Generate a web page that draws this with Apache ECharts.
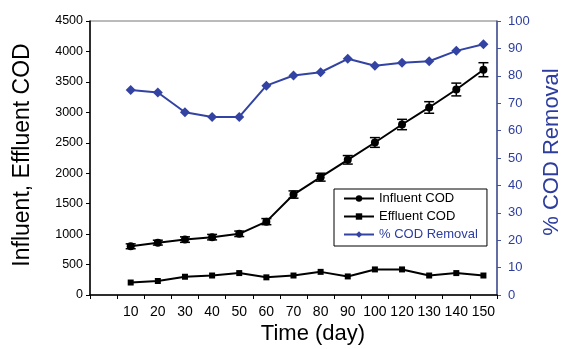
<!DOCTYPE html>
<html>
<head>
<meta charset="utf-8">
<script src="https://cdn.jsdelivr.net/npm/echarts@6/dist/echarts.min.js"></script>
<style>html,body{margin:0;padding:0;background:#fff}#c{width:567px;height:349px}</style>
</head>
<body>
<div id="c"></div>
<script>
const days = ['10','20','30','40','50','60','70','80','90','100','120','130','140','150'];
const influentCOD = [800, 860, 910, 950, 1005, 1205, 1650, 1935, 2220, 2505, 2800, 3080, 3375, 3700];
const influentErr = [40, 40, 45, 45, 45, 50, 60, 65, 70, 80, 85, 95, 105, 115];
const effluentCOD = [205, 230, 300, 320, 360, 290, 320, 380, 305, 420, 420, 320, 360, 320];
const codRemoval = [74.8, 73.9, 66.7, 65.0, 65.0, 76.4, 80.1, 81.3, 86.2, 83.7, 84.8, 85.3, 89.1, 91.5];
const leftTicks = {min: 0, max: 4500, interval: 500};
const rightTicks = {min: 0, max: 100, interval: 10};

const FONT = "'Liberation Sans', Arial, Helvetica, sans-serif";
const BLUE = '#3343a3';
const BLUE_TXT = '#2c3d9f';

const categories = [''].concat(days);
const pad = arr => [null].concat(arr);
const errData = influentCOD.map((v, i) => [i + 1, v, influentErr[i]]);

const chart = echarts.init(document.getElementById('c'), null, {renderer: 'canvas'});
chart.setOption({
  animation: false,
  textStyle: {fontFamily: FONT},
  grid: {left: 90, right: 70, top: 21, bottom: 54, show: true, borderColor: '#777', borderWidth: 1},
  legend: {
    orient: 'vertical', left: 334, top: 189,
    backgroundColor: '#fff', borderColor: '#000', borderWidth: 1,
    padding: [3, 9, 5, 9], itemGap: 5, itemWidth: 30, itemHeight: 8,
    textStyle: {fontFamily: FONT, fontSize: 13, color: '#000'},
    data: [
      {name: 'Influent COD'},
      {name: 'Effluent COD'},
      {name: '% COD Removal', textStyle: {color: BLUE_TXT}}
    ]
  },
  xAxis: {
    type: 'category', data: categories, boundaryGap: true,
    axisLine: {lineStyle: {color: '#000', width: 1.5}},
    axisTick: {show: true, length: 4, lineStyle: {color: '#000'}},
    axisLabel: {interval: 0, fontSize: 14, color: '#000', margin: 10, fontFamily: FONT},
    splitLine: {show: false}
  },
  yAxis: [
    {
      type: 'value', position: 'left', min: leftTicks.min, max: leftTicks.max, interval: leftTicks.interval,
      axisLine: {show: true, lineStyle: {color: '#000', width: 1.5}},
      axisTick: {show: true, length: 4, lineStyle: {color: '#000'}},
      axisLabel: {fontSize: 12.5, color: '#000', margin: 7, fontFamily: FONT, formatter: v => String(v)},
      splitLine: {show: false}
    },
    {
      type: 'value', position: 'right', min: rightTicks.min, max: rightTicks.max, interval: rightTicks.interval,
      axisLine: {show: true, lineStyle: {color: '#46549e', width: 1.5}},
      axisTick: {show: true, length: 4, lineStyle: {color: '#46549e'}},
      axisLabel: {fontSize: 13, color: BLUE_TXT, margin: 11, fontFamily: FONT, formatter: v => String(v)},
      splitLine: {show: false}
    }
  ],
  graphic: [
    {type: 'text', x: 23, y: 155, rotation: Math.PI / 2,
     style: {text: 'Influent, Effluent COD', font: '23px ' + FONT, fill: '#000', textAlign: 'center', textVerticalAlign: 'middle'}},
    {type: 'text', x: 552, y: 152, rotation: Math.PI / 2,
     style: {text: '% COD Removal', font: '22px ' + FONT, fill: BLUE_TXT, textAlign: 'center', textVerticalAlign: 'middle'}},
    {type: 'text', x: 313, y: 334,
     style: {text: 'Time (day)', font: '22px ' + FONT, fill: '#000', textAlign: 'center', textVerticalAlign: 'middle'}}
  ],
  series: [
    {
      name: 'Influent COD', type: 'line', yAxisIndex: 0, data: pad(influentCOD),
      symbol: 'circle', symbolSize: 8, showSymbol: true,
      lineStyle: {color: '#000', width: 2}, itemStyle: {color: '#000'}, z: 3
    },
    {
      name: 'Effluent COD', type: 'line', yAxisIndex: 0, data: pad(effluentCOD),
      symbol: 'rect', symbolSize: 6,
      lineStyle: {color: '#000', width: 2}, itemStyle: {color: '#000'}, z: 3
    },
    {
      name: '% COD Removal', type: 'line', yAxisIndex: 1, data: pad(codRemoval),
      symbol: 'diamond', symbolSize: 10,
      lineStyle: {color: BLUE, width: 2}, itemStyle: {color: BLUE}, z: 3
    },
    {
      name: 'errors', type: 'custom', yAxisIndex: 0, data: errData, z: 4,
      renderItem: function (params, api) {
        const x = api.value(0), v = api.value(1), e = api.value(2);
        const hi = api.coord([x, v + e]);
        const lo = api.coord([x, v - e]);
        const w = 5;
        const st = {stroke: '#000', lineWidth: 1.5};
        return {type: 'group', children: [
          {type: 'line', shape: {x1: hi[0], y1: hi[1], x2: lo[0], y2: lo[1]}, style: st},
          {type: 'line', shape: {x1: hi[0] - w, y1: hi[1], x2: hi[0] + w, y2: hi[1]}, style: st},
          {type: 'line', shape: {x1: lo[0] - w, y1: lo[1], x2: lo[0] + w, y2: lo[1]}, style: st}
        ]};
      }
    }
  ]
});
</script>
</body>
</html>
